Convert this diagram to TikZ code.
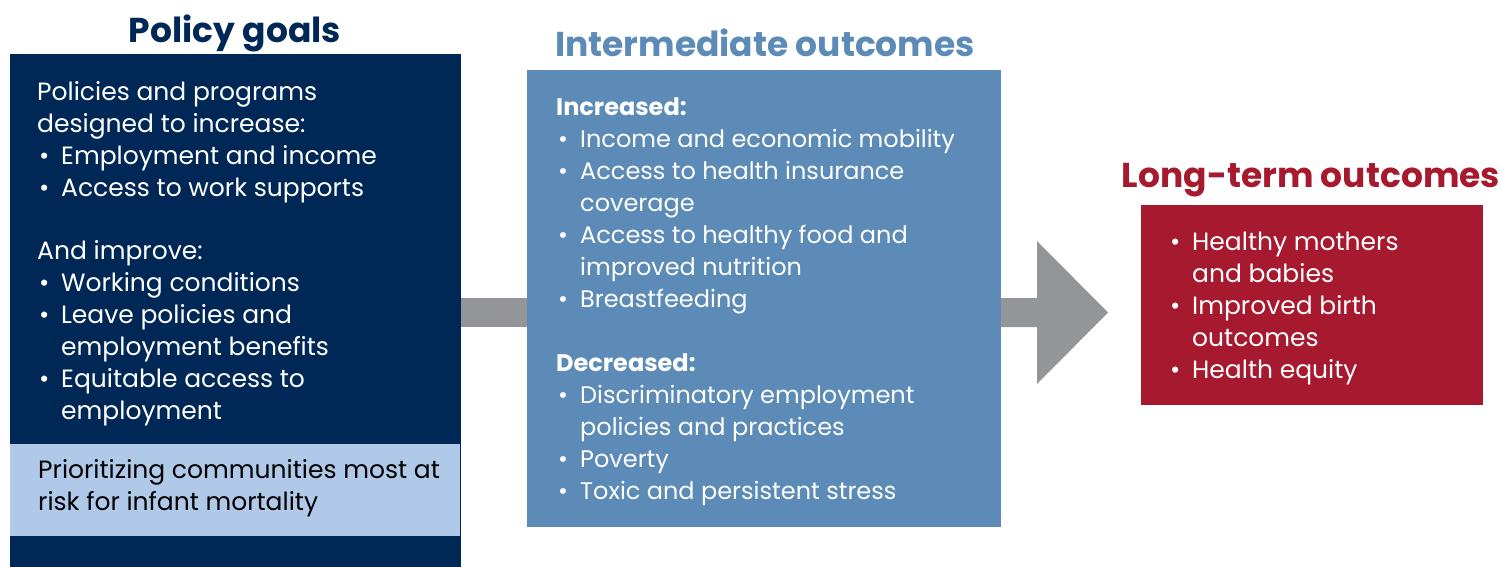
\documentclass[tikz,border=0pt]{standalone}
\usepackage{fontspec}
\setmainfont{Poppins}
\definecolor{navy}{HTML}{002856}
\definecolor{midblue}{HTML}{5B8BB6}
\definecolor{lightblue}{HTML}{B0C9E9}
\definecolor{darkred}{HTML}{A6192E}
\definecolor{arrowgrey}{HTML}{939598}
\newcommand\bl{\makebox[24pt][l]{\hspace{2pt}\textbullet}}
\newcommand\ind{\hspace*{24pt}}
\begin{document}
\begin{tikzpicture}[x=1pt,y=-1pt,
  box/.style={inner sep=0pt, outer sep=0pt},
  heading/.style={font=\fontsize{34.5}{40}\selectfont\bfseries, inner sep=0pt, anchor=base},
  body/.style={font=\fontsize{24}{32}\selectfont, inner sep=0pt, anchor=north west, align=left, text=white},
  bigbody/.style={body, font=\fontsize{25}{32}\selectfont}]
\useasboundingbox (0,0) rectangle (1502,567);
% boxes
\fill[navy] (10,54) rectangle (461,567);
\fill[lightblue] (10,444) rectangle (460,536);
\fill[midblue] (527,70) rectangle (1001,527);
\fill[darkred] (1141,205) rectangle (1483,405);
% arrows
\fill[arrowgrey] (461,298) rectangle (527,327);
\fill[arrowgrey] (1001,298) -- (1037,298) -- (1037,241) -- (1108,312.5) -- (1037,384) -- (1037,327) -- (1001,327) -- cycle;
% headings
\node[heading, text=navy] (h1) at (235,43) {Policy goals};
\node[heading, text=midblue] (h2) at (765,57) {Intermediate outcomes};
\node[heading, text=darkred] (h3) at (1311,187) {Long-term outcomes};
% texts
\node[bigbody] (t1) at (37,100-22.4) {\strut Policies and programs\\designed to increase:\\\bl Employment and income\\\bl Access to work supports\\[31pt]And improve:\\\bl Working conditions\\\bl Leave policies and\\\ind employment benefits\\\bl Equitable access to\\\ind employment};
\node[bigbody, text=black] (t2) at (38,478-22.4) {\strut Prioritizing communities most at\\risk for infant mortality};
\node[body] (t3) at (556,115-22.4) {\strut\textbf{Increased:}\\\bl Income and economic mobility\\\bl Access to health insurance\\\ind coverage\\\bl Access to healthy food and\\\ind improved nutrition\\\bl Breastfeeding\\[32pt]\textbf{Decreased:}\\\bl Discriminatory employment\\\ind policies and practices\\\bl Poverty\\\bl Toxic and persistent stress};
\node[bigbody] (t4) at (1168,250-22.4) {\strut\bl Healthy mothers\\\ind and babies\\\bl Improved birth\\\ind outcomes\\\bl Health equity};
\end{tikzpicture}
\end{document}
